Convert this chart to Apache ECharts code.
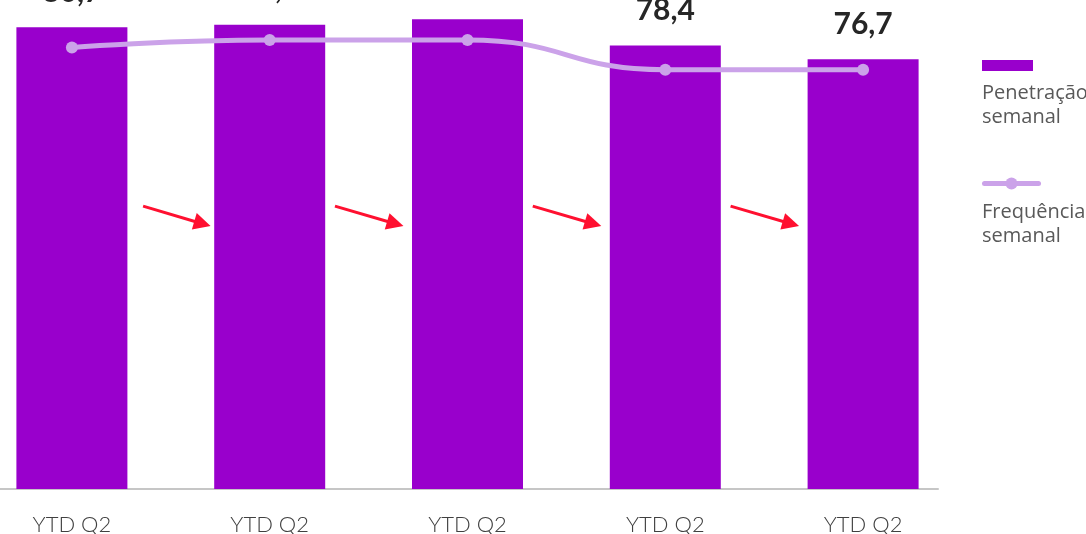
<!DOCTYPE html>
<html>
<head>
<meta charset="utf-8">
<script src="https://cdn.jsdelivr.net/npm/echarts@6/dist/echarts.min.js"></script>
<style>
  html, body { margin: 0; padding: 0; background: #ffffff; }
  #chart { width: 1086px; height: 534px; }
</style>
</head>
<body>
<div id="chart"></div>
<script>
const categories = ['YTD Q2', 'YTD Q2', 'YTD Q2', 'YTD Q2', 'YTD Q2'];
const seriesNames = ['Penetração semanal', 'Frequência semanal'];
const penetration = [80.7, 81.0, 81.7, 78.4, 76.7];
const frequency = [2.98, 3.03, 3.03, 2.83, 2.83];
// decorative arrows between bars, in data space (category index, value)
const arrows = [
  [[0.36, 58.35], [0.66, 56.15]],
  [[1.33, 58.35], [1.635, 56.15]],
  [[2.33, 58.35], [2.635, 56.15]],
  [[3.33, 58.35], [3.635, 56.15]]
];

const FONT = 'Lato, "Noto Sans", sans-serif';
const LEGEND_FONT = '"Open Sans", "Noto Sans", sans-serif';
const chart = echarts.init(document.getElementById('chart'), null, { renderer: 'canvas' });

chart.setOption({
  animation: false,
  backgroundColor: '#ffffff',
  grid: [
    { left: -27, width: 989, top: 0, height: 489, outerBoundsMode: 'none', containLabel: false },
    { left: 0, width: 938, top: 0, height: 489, outerBoundsMode: 'none', containLabel: false }
  ],
  xAxis: [
    {
      type: 'category', gridIndex: 0, data: categories,
      axisLine: { show: false }, axisTick: { show: false },
      axisLabel: { margin: 25, fontFamily: FONT, fontSize: 22, fontWeight: 300, color: '#404040' },
      splitLine: { show: false }
    },
    {
      type: 'category', gridIndex: 1, data: categories,
      axisLine: { show: true, lineStyle: { color: '#C6C6C6', width: 2 } },
      axisTick: { show: false }, axisLabel: { show: false }, splitLine: { show: false }
    },
    { type: 'value', gridIndex: 0, min: -0.5, max: 4.5, show: false }
  ],
  yAxis: [
    { type: 'value', gridIndex: 0, min: 23, max: 84.1, show: false },
    { type: 'value', gridIndex: 0, min: 0, max: 3.3, show: false },
    { type: 'value', gridIndex: 1, min: 0, max: 1, show: false }
  ],
  legend: [
    {
      orient: 'vertical', left: 982, top: 60, padding: 0,
      itemWidth: 51, itemHeight: 11,
      formatter: function () { return ''; },
      textStyle: { fontSize: 8 },
      data: [{ name: seriesNames[0], icon: 'rect' }]
    },
    {
      orient: 'vertical', left: 982, top: 176, padding: 0,
      itemWidth: 54, itemHeight: 15,
      formatter: function () { return ''; },
      textStyle: { fontSize: 8 },
      lineStyle: { width: 5, cap: 'round', color: '#CBA2E9' },
      data: [{ name: seriesNames[1] }]
    },
    {
      orient: 'vertical', left: 977, top: 81, padding: 0, itemGap: 71,
      itemWidth: 0, itemHeight: 0, icon: 'none',
      formatter: function (name) { return name.replace(' ', '\n'); },
      textStyle: { fontFamily: LEGEND_FONT, fontSize: 20, fontWeight: 'normal', lineHeight: 24, color: '#595959' },
      data: seriesNames
    }
  ],
  series: [
    {
      name: seriesNames[0], type: 'bar', xAxisIndex: 0, yAxisIndex: 0,
      data: penetration, barWidth: 111,
      itemStyle: { color: '#9900CC' },
      label: {
        show: true, position: 'top', distance: 20,
        fontFamily: FONT, fontSize: 30, fontWeight: 'bold', color: '#262626',
        formatter: function (p) { return p.value.toFixed(1).replace('.', ','); }
      },
      z: 2
    },
    {
      name: seriesNames[1], type: 'line', xAxisIndex: 0, yAxisIndex: 1,
      data: frequency, smooth: 0.5,
      symbol: 'circle', symbolSize: 12, showSymbol: true,
      lineStyle: { color: '#CBA2E9', width: 5 },
      itemStyle: { color: '#CBA2E9' },
      z: 5
    },
    {
      name: 'arrows', type: 'lines', coordinateSystem: 'cartesian2d',
      xAxisIndex: 2, yAxisIndex: 0,
      symbol: ['none', 'triangle'], symbolSize: [15, 17],
      lineStyle: { color: '#FF1030', width: 3, opacity: 1 },
      itemStyle: { color: '#FF1030' },
      data: arrows.map(function (a) { return { coords: a }; }),
      z: 6
    }
  ]
});
</script>
</body>
</html>
